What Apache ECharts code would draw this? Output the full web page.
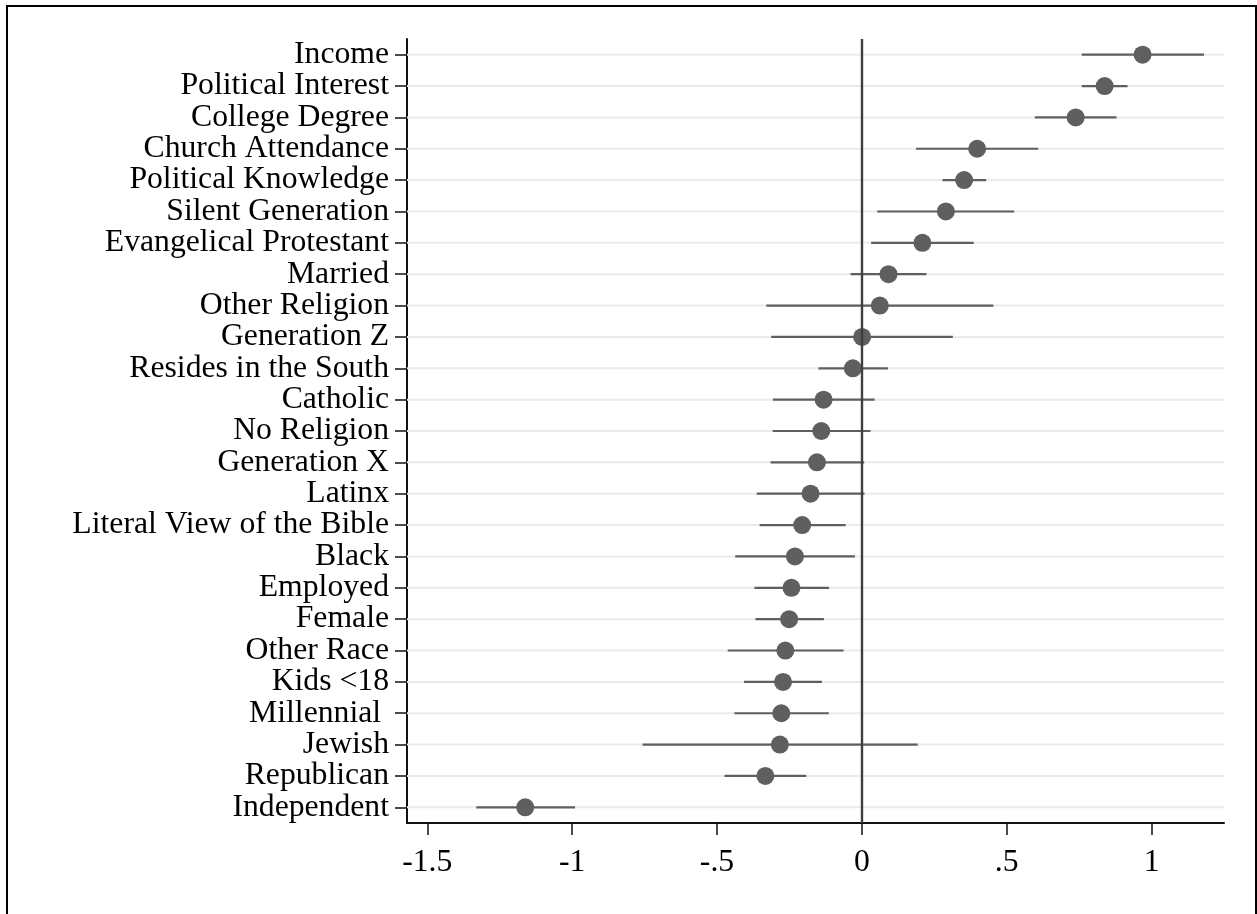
<!DOCTYPE html>
<html>
<head>
<meta charset="utf-8">
<script src="https://cdn.jsdelivr.net/npm/echarts@6/dist/echarts.min.js"></script>
<style>
  html, body { margin: 0; padding: 0; background: #fff; }
  #chart { width: 1257px; height: 914px; }
</style>
</head>
<body>
<div id="chart"></div>
<script>
// Predictors, top to bottom
const categories = [
  'Income', 'Political Interest', 'College Degree', 'Church Attendance',
  'Political Knowledge', 'Silent Generation', 'Evangelical Protestant', 'Married',
  'Other Religion', 'Generation Z', 'Resides in the South', 'Catholic',
  'No Religion', 'Generation X', 'Latinx', 'Literal View of the Bible',
  'Black', 'Employed', 'Female', 'Other Race', 'Kids <18', 'Millennial ',
  'Jewish', 'Republican', 'Independent'
];

// Point estimates
const estimates = [
  0.969, 0.838, 0.738, 0.398, 0.353, 0.290, 0.209, 0.092,
  0.062, 0.001, -0.031, -0.132, -0.140, -0.155, -0.177, -0.206,
  -0.231, -0.243, -0.251, -0.264, -0.272, -0.278, -0.283, -0.333, -1.162
];

// Confidence interval bounds
const lower = [
  0.759, 0.759, 0.597, 0.187, 0.278, 0.053, 0.032, -0.039,
  -0.330, -0.313, -0.150, -0.307, -0.308, -0.315, -0.363, -0.353,
  -0.437, -0.371, -0.367, -0.463, -0.407, -0.440, -0.757, -0.474, -1.331
];
const upper = [
  1.181, 0.917, 0.879, 0.609, 0.429, 0.526, 0.386, 0.223,
  0.454, 0.314, 0.090, 0.044, 0.030, 0.008, 0.009, -0.056,
  -0.024, -0.113, -0.131, -0.063, -0.138, -0.114, 0.193, -0.192, -0.990
];

// Horizontal axis
const xMin = -1.57;
const xMax = 1.25;
const tickValues = [-1.5, -1, -0.5, 0, 0.5, 1];

const FONT = "'Liberation Serif', 'Times New Roman', serif";
const MARK = '#5f5f5f';

const chart = echarts.init(document.getElementById('chart'), null, { renderer: 'canvas' });

const rows = categories.map((c, i) => [i, lower[i], upper[i]]);

chart.setOption({
  backgroundColor: '#fff',
  animation: false,
  graphic: [{
    type: 'rect',
    shape: { x: 7, y: 6, width: 1249, height: 1000 },
    style: { fill: null, stroke: '#000', lineWidth: 2 },
    silent: true,
    z: 100
  }],
  grid: {
    left: 407, right: 33, top: 39, bottom: 91,
    containLabel: false, outerBoundsMode: 'none'
  },
  xAxis: {
    type: 'value',
    min: xMin,
    max: xMax,
    axisLine: { show: true, onZero: false, lineStyle: { color: '#111', width: 2 } },
    axisTick: { show: true, length: 12, customValues: tickValues, lineStyle: { color: '#111', width: 1.5 } },
    axisLabel: {
      customValues: tickValues,
      margin: 24,
      color: '#000',
      fontFamily: FONT,
      fontSize: 31.7,
      formatter: v => String(v).replace(/^(-?)0\./, '$1.')
    },
    splitLine: { show: false }
  },
  yAxis: {
    type: 'category',
    data: categories,
    inverse: true,
    boundaryGap: true,
    axisLine: { show: true, onZero: false, lineStyle: { color: '#111', width: 2 } },
    axisTick: { show: true, alignWithLabel: true, length: 12, lineStyle: { color: '#111', width: 1.5 } },
    axisLabel: {
      margin: 18,
      color: '#000',
      fontFamily: FONT,
      fontSize: 31.7,
      padding: [6, 0, 0, 0],
      interval: 0
    },
    splitLine: { show: false }
  },
  series: [
    {
      // light row guides
      type: 'custom',
      z: 1,
      silent: true,
      data: rows,
      encode: { y: 0 },
      renderItem: (params, api) => {
        const i = api.value(0);
        const a = api.coord([xMin, i]);
        const b = api.coord([xMax, i]);
        return {
          type: 'line',
          shape: { x1: a[0], y1: a[1], x2: b[0], y2: b[1] },
          style: { stroke: '#ebebeb', lineWidth: 2 }
        };
      }
    },
    {
      // confidence intervals
      type: 'custom',
      z: 2,
      silent: true,
      data: rows,
      encode: { y: 0, x: [1, 2] },
      renderItem: (params, api) => {
        const i = api.value(0);
        const a = api.coord([api.value(1), i]);
        const b = api.coord([api.value(2), i]);
        return {
          type: 'line',
          shape: { x1: a[0], y1: a[1], x2: b[0], y2: b[1] },
          style: { stroke: MARK, lineWidth: 2.2 }
        };
      },
      markLine: {
        silent: true,
        symbol: 'none',
        label: { show: false },
        lineStyle: { color: '#3f3f3f', width: 2.4, type: 'solid' },
        data: [{ xAxis: 0 }]
      }
    },
    {
      type: 'scatter',
      z: 4,
      silent: true,
      symbol: 'circle',
      symbolSize: 18,
      itemStyle: { color: MARK, opacity: 1 },
      data: estimates.map((v, i) => [v, i])
    }
  ]
});
</script>
</body>
</html>
